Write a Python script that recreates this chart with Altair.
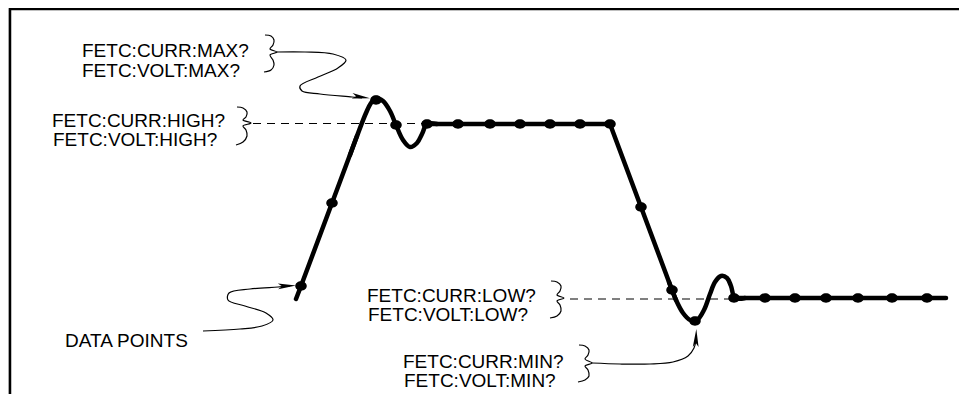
import altair as alt
import pandas as pd

# ---- geometry (page pixel units) ----
frame_pts = [(10, 402), (10, 9), (967, 9)]

# waveform: straight parts (linear) and ringing parts (smooth)
rise_pts = [(296, 299), (301, 286), (332, 203), (357, 136)]
flat_high_pts = [(427, 124), (610, 124), (641, 207), (672, 290), (676, 300)]
flat_low_pts = [(735, 298), (946, 298)]
overshoot_pts = [(350, 155), (357, 136), (366, 113), (371, 103), (376, 98), (383, 101),
                 (390, 111), (396, 125), (403, 140), (410, 147), (417, 143), (422, 134),
                 (427, 124), (437, 124)]
undershoot_pts = [(669, 282), (676, 300), (683, 313), (690, 320), (697, 320), (704, 310),
                  (710, 294), (715, 282), (721, 276), (727, 278), (731, 286), (735, 298),
                  (745, 298)]

dot_x = [301, 332, 376, 396, 427, 458, 490, 520, 550, 580, 610, 641, 672, 695,
         734, 765, 795, 826, 858, 892, 927]
dot_y = [286, 203, 100, 125, 124, 124, 124, 124, 124, 124, 124, 207, 290, 321,
         298, 298, 298, 298, 298, 298, 298]

high_dash = [(253, 123.5), (427, 123.5)]
low_dash = [(570, 299), (735, 299)]

brace_max = [(265, 35), (271, 36), (274, 40), (273, 45), (270, 49), (277, 52),
             (270, 55), (273, 60), (274, 65), (271, 70), (264, 72)]
brace_high = [(237, 107), (243, 108), (247, 112), (246, 117), (243, 120), (251, 123),
              (243, 126), (246, 130), (247, 136), (243, 142), (236, 145)]
brace_low = [(551, 281), (557, 282), (561, 286), (560, 291), (557, 295), (564, 298),
             (557, 301), (560, 305), (561, 311), (557, 316), (550, 318)]
brace_min = [(579, 345), (585, 346), (589, 350), (588, 355), (585, 359), (592, 363),
             (585, 366), (588, 370), (589, 376), (585, 380), (578, 382)]

squig_max = [(277, 52), (305, 52), (333, 54), (346, 60), (338, 68), (318, 77),
             (300, 86), (302, 91), (320, 94), (352, 97), (362, 98)]
squig_data = [(203, 331), (240, 329), (262, 326), (273, 320), (266, 313), (245, 306),
              (228, 300), (229, 293), (250, 289), (278, 287), (290, 286)]
squig_min = [(592, 363), (620, 364), (650, 364), (673, 362), (688, 356), (694, 348),
             (696, 340)]

arrow_x = [361, 287, 696]
arrow_y = [97, 286, 338]
arrow_angle = [8, 357, 272]

labels = ["FETC:CURR:MAX?", "FETC:VOLT:MAX?", "FETC:CURR:HIGH?", "FETC:VOLT:HIGH?",
          "FETC:CURR:LOW?", "FETC:VOLT:LOW?", "FETC:CURR:MIN?", "FETC:VOLT:MIN?",
          "DATA POINTS"]
label_x = [82, 82, 52, 53, 367, 368, 403, 404, 65]
label_y = [57, 77, 127, 146, 301.5, 320.5, 368, 387, 347]


def seg_df(groups):
    rows = []
    for name, pts in groups.items():
        for i, (x, y) in enumerate(pts):
            rows.append({"seg": name, "i": i, "x": x, "y": y})
    return pd.DataFrame(rows)


X = alt.X("x:Q", scale=alt.Scale(domain=[8, 959], nice=False, zero=False), axis=None)
Y = alt.Y("y:Q", scale=alt.Scale(domain=[8, 394], reverse=True, nice=False, zero=False), axis=None)


def lines(groups, **mark):
    return alt.Chart(seg_df(groups)).mark_line(color="black", **mark).encode(
        x=X, y=Y, detail="seg:N", order=alt.Order("i:Q"))


frame = lines({"frame": frame_pts}, strokeWidth=2.5, strokeCap="square")
wave_lin = lines({"rise": rise_pts, "high": flat_high_pts, "low": flat_low_pts},
                 strokeWidth=4.5, strokeJoin="round", strokeCap="round")
wave_cur = lines({"over": overshoot_pts, "under": undershoot_pts},
                 strokeWidth=4.5, interpolate="catmull-rom", strokeCap="round")
dashes = lines({"hd": high_dash, "ld": low_dash}, strokeWidth=1, strokeDash=[8, 6])
braces = lines({"b1": brace_max, "b2": brace_high, "b3": brace_low, "b4": brace_min},
               strokeWidth=1.2, interpolate="catmull-rom")
squigs = lines({"s1": squig_max, "s2": squig_data, "s3": squig_min},
               strokeWidth=1.2, interpolate="catmull-rom")

dots = alt.Chart(pd.DataFrame({"x": dot_x, "y": dot_y})).mark_point(
    shape="M -1.1 0 A 1.1 0.9 0 1 0 1.1 0 A 1.1 0.9 0 1 0 -1.1 0 Z",
    filled=True, color="black", opacity=1, size=110).encode(x=X, y=Y)

arrows = alt.Chart(pd.DataFrame({"x": arrow_x, "y": arrow_y, "a": arrow_angle})).mark_point(
    shape="M 1 0 L -1 -0.32 L -0.55 0 L -1 0.32 Z",
    filled=True, color="black", opacity=1, size=324).encode(
    x=X, y=Y, angle=alt.Angle("a:Q", scale=None))

texts = alt.Chart(pd.DataFrame({"x": label_x, "y": label_y, "t": labels})).mark_text(
    align="left", baseline="alphabetic", font="Liberation Sans", fontSize=19,
    color="black").encode(x=X, y=Y, text="t:N")

chart = alt.layer(frame, dashes, braces, squigs, wave_lin, wave_cur, dots, arrows, texts).properties(
    width=951, height=386, autosize=alt.AutoSizeParams(type="none"), padding=0
).configure_view(stroke=None).configure(background="white")

chart.save("out.html", embed_options={"renderer": "svg", "actions": False})
